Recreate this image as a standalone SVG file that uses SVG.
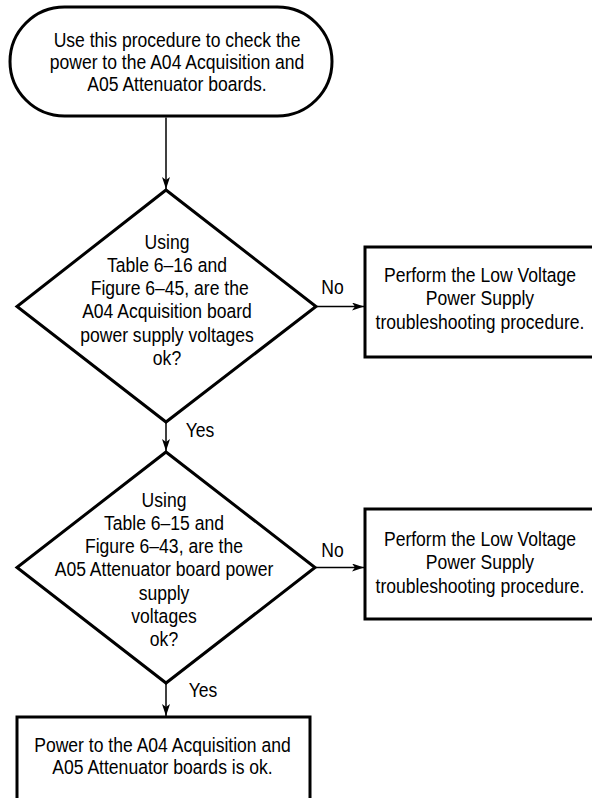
<svg xmlns="http://www.w3.org/2000/svg" width="592" height="798" viewBox="0 0 592 798">
<style>
.shape{fill:#fff;stroke:#000;stroke-width:3;stroke-linejoin:miter}
.conn{fill:none;stroke:#000;stroke-width:1.5}
text{font-family:"Liberation Sans",Arial,sans-serif;font-size:19.5px;fill:#000;text-anchor:middle}
</style>
<defs>
<marker id="arr" viewBox="0 0 12 8" refX="12" refY="4" markerWidth="12" markerHeight="8" markerUnits="userSpaceOnUse" orient="auto">
<path d="M0,0 L12,4 L0,8 L3,4 z" fill="#000"/>
</marker>
</defs>
<g id="start">
<rect class="shape" x="10" y="7" width="322" height="109" rx="54.5" ry="54.5"/>
<text transform="translate(177,47) scale(0.9,1)"><tspan x="0" y="0">Use this procedure to check the</tspan><tspan x="0" y="22">power to the A04 Acquisition and</tspan><tspan x="0" y="44">A05 Attenuator boards.</tspan></text>
</g>
<g id="decision1">
<polygon class="shape" points="166,190 316,306.5 166,422 17,306.5"/>
<text transform="translate(167,248.5) scale(0.9,1)"><tspan x="0" y="0">Using</tspan><tspan x="0" y="23.3">Table 6–16 and</tspan><tspan x="3" y="46.6">Figure 6–45, are the</tspan><tspan x="0" y="69.9">A04 Acquisition board</tspan><tspan x="0" y="93.2">power supply voltages</tspan><tspan x="0" y="116.5">ok?</tspan></text>
</g>
<g id="lvps1">
<rect class="shape" x="365" y="247" width="230" height="110"/>
<text transform="translate(480,282) scale(0.9,1)"><tspan x="0" y="0">Perform the Low Voltage</tspan><tspan x="0" y="23.5">Power Supply</tspan><tspan x="0" y="47">troubleshooting procedure.</tspan></text>
</g>
<g id="decision2">
<polygon class="shape" points="166,452 315,567.5 166,683 17,567.5"/>
<text transform="translate(164,506.5) scale(0.9,1)"><tspan x="0" y="0">Using</tspan><tspan x="0" y="23.3">Table 6–15 and</tspan><tspan x="0" y="46.6">Figure 6–43, are the</tspan><tspan x="0" y="69.9">A05 Attenuator board power</tspan><tspan x="0" y="93.2">supply</tspan><tspan x="0" y="116.5">voltages</tspan><tspan x="0" y="139.8">ok?</tspan></text>
</g>
<g id="lvps2">
<rect class="shape" x="365" y="509" width="230" height="110"/>
<text transform="translate(480,546) scale(0.9,1)"><tspan x="0" y="0">Perform the Low Voltage</tspan><tspan x="0" y="23.5">Power Supply</tspan><tspan x="0" y="47">troubleshooting procedure.</tspan></text>
</g>
<g id="end">
<rect class="shape" x="17" y="717" width="293" height="85"/>
<text transform="translate(162.5,751.5) scale(0.9,1)"><tspan x="0" y="0">Power to the A04 Acquisition and</tspan><tspan x="0" y="22.5">A05 Attenuator boards is ok.</tspan></text>
</g>
<g id="connectors">
<line class="conn" x1="166" y1="117.5" x2="166" y2="189" marker-end="url(#arr)"/>
<line class="conn" x1="317" y1="306.5" x2="364" y2="306.5" marker-end="url(#arr)"/>
<line class="conn" x1="166" y1="423" x2="166" y2="451" marker-end="url(#arr)"/>
<line class="conn" x1="316" y1="567.5" x2="364" y2="567.5" marker-end="url(#arr)"/>
<line class="conn" x1="166" y1="684" x2="166" y2="716" marker-end="url(#arr)"/>
<text transform="translate(332.5,294) scale(0.9,1)" x="0" y="0">No</text>
<text transform="translate(200,437) scale(0.9,1)" x="0" y="0">Yes</text>
<text transform="translate(332.5,557) scale(0.9,1)" x="0" y="0">No</text>
<text transform="translate(203,697) scale(0.9,1)" x="0" y="0">Yes</text>
</g>
</svg>
